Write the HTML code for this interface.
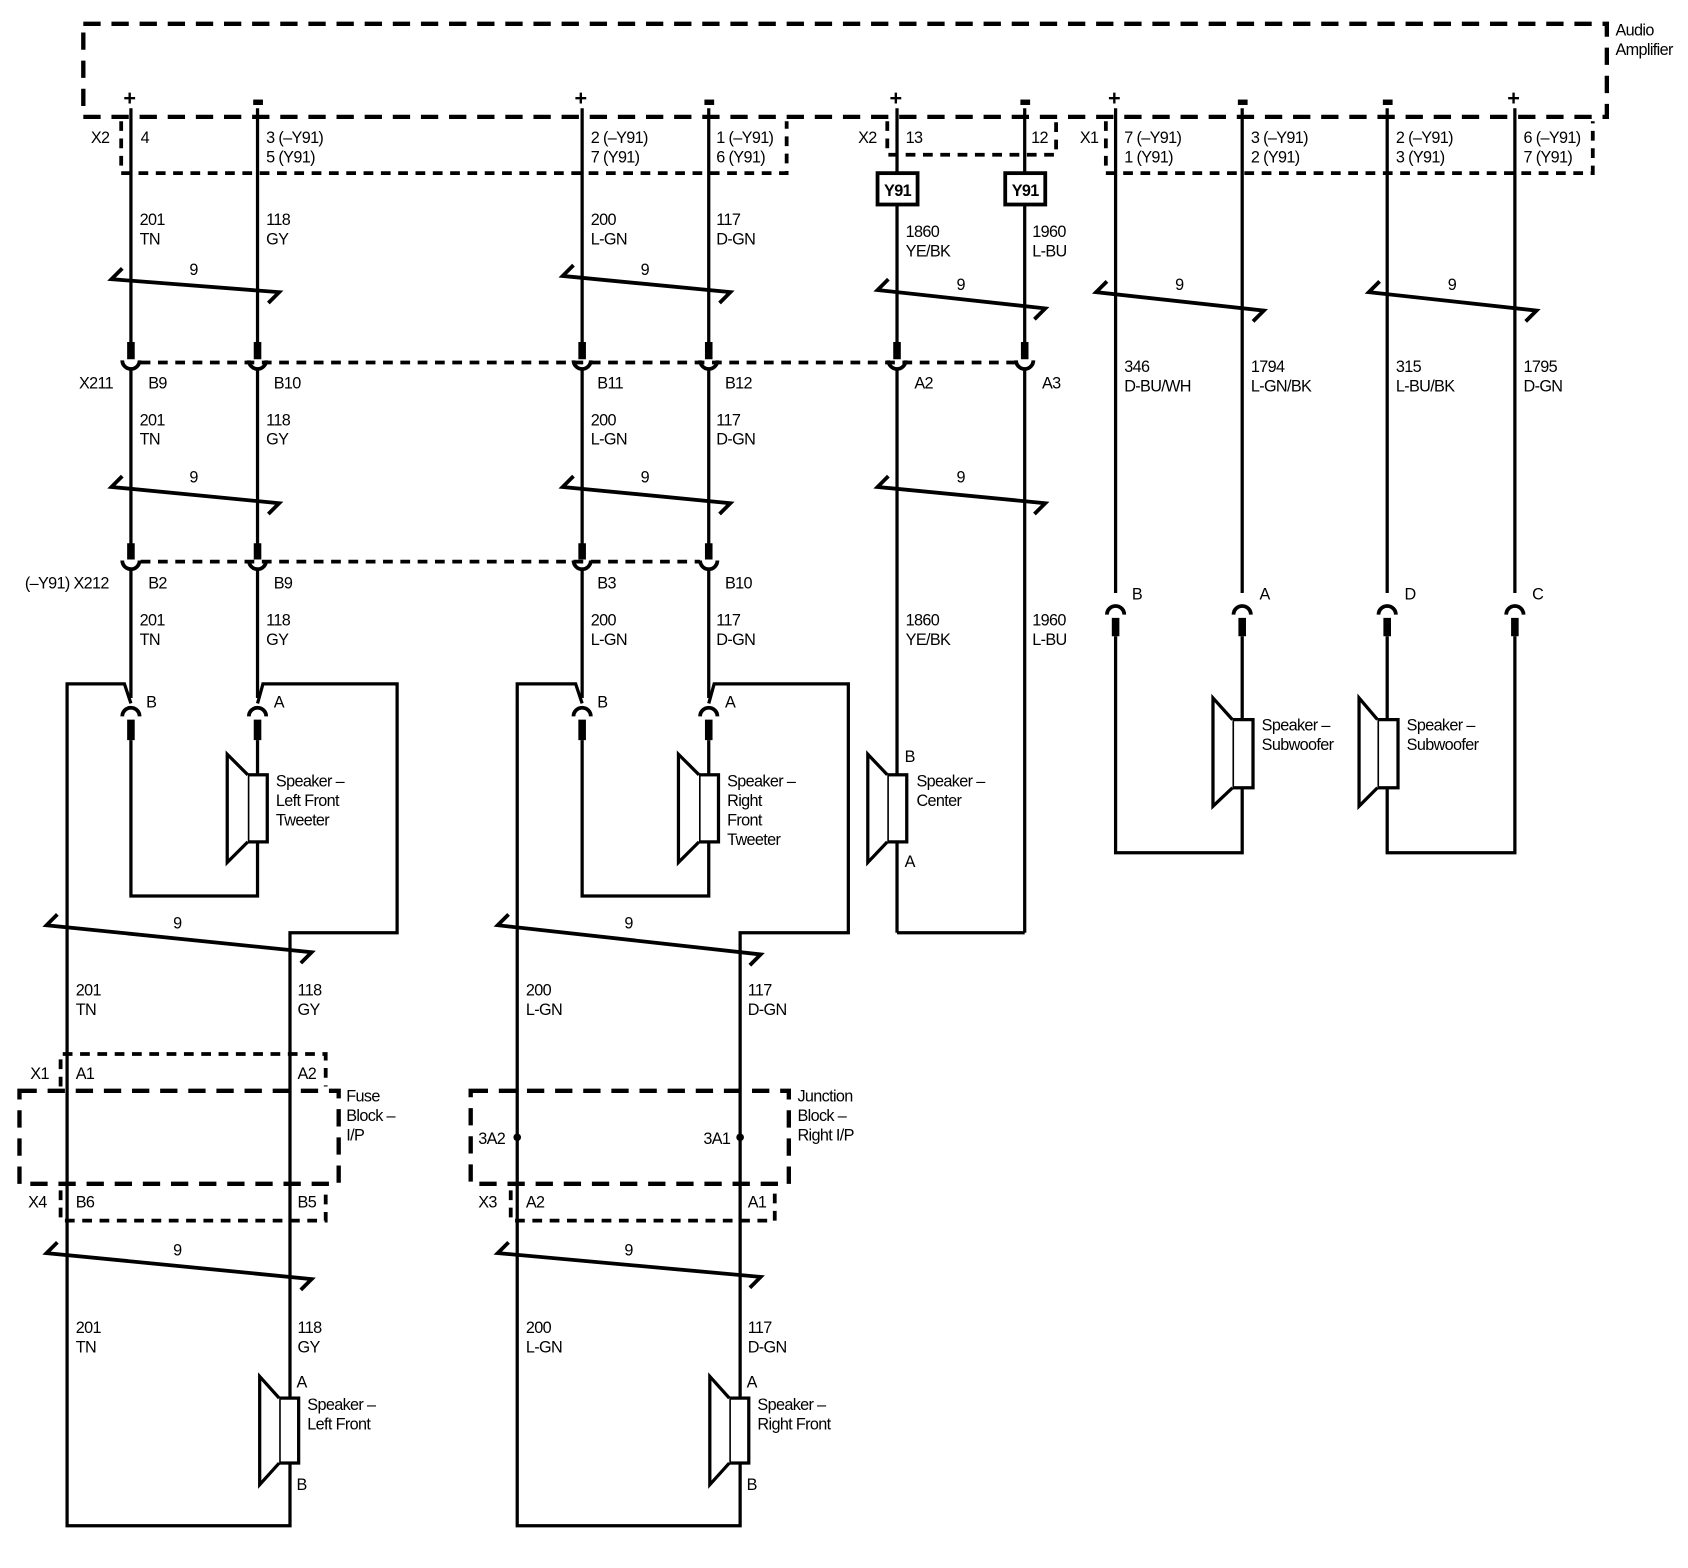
<!DOCTYPE html>
<html><head><meta charset="utf-8"><style>
html,body{margin:0;padding:0;background:#fff;}
svg{display:block;}
text{font-family:"Liberation Sans",sans-serif;font-size:15px;fill:#000;letter-spacing:-0.6px;}
.w{stroke:#000;stroke-width:3;fill:none;}
.d{stroke:#000;stroke-width:3.5;fill:none;stroke-dasharray:9,7;}
.dl{stroke:#000;stroke-width:4;fill:none;stroke-dasharray:16,10;}
.s{stroke:#000;stroke-width:3.5;fill:none;}
.st{stroke:#000;stroke-width:7;fill:none;}
.sp{stroke:#000;stroke-width:3;fill:#fff;}
.pm{font-size:20px;font-weight:bold;}
</style></head><body>
<svg width="1688" height="1568" viewBox="0 0 1560 1449" preserveAspectRatio="none" xmlns="http://www.w3.org/2000/svg">
<path class="dl" d="M77,22 H1485 V108 H77 Z"/>
<text x="1493" y="33">Audio</text><text x="1493" y="51">Amplifier</text>
<text class="pm" x="114" y="97">+</text>
<text class="pm" x="531" y="97">+</text>
<text class="pm" x="822" y="97">+</text>
<text class="pm" x="1024" y="97">+</text>
<text class="pm" x="1393" y="97">+</text>
<g fill="#000"><rect x="234" y="92" width="9" height="5"/><rect x="651" y="92" width="9" height="5"/><rect x="943" y="92" width="9" height="5"/><rect x="1144" y="92" width="9" height="5"/><rect x="1278" y="92" width="9" height="5"/></g>
<path class="d" d="M112,112 V160 H727 V112"/>
<path class="d" d="M820,112 V143 H976 V112"/>
<path class="d" d="M1022,112 V160 H1472 V112"/>
<text x="84" y="132">X2</text><text x="130" y="132">4</text>
<text x="246" y="132">3 (–Y91)</text><text x="246" y="150">5 (Y91)</text>
<text x="546" y="132">2 (–Y91)</text><text x="546" y="150">7 (Y91)</text>
<text x="662" y="132">1 (–Y91)</text><text x="662" y="150">6 (Y91)</text>
<text x="793" y="132">X2</text><text x="837" y="132">13</text><text x="953" y="132">12</text>
<text x="998" y="132">X1</text>
<text x="1039" y="132">7 (–Y91)</text><text x="1039" y="150">1 (Y91)</text>
<text x="1156" y="132">3 (–Y91)</text><text x="1156" y="150">2 (Y91)</text>
<text x="1290" y="132">2 (–Y91)</text><text x="1290" y="150">3 (Y91)</text>
<text x="1408" y="132">6 (–Y91)</text><text x="1408" y="150">7 (Y91)</text>
<rect x="811" y="160" width="37" height="29" class="s" fill="#fff"/>
<rect x="929" y="160" width="37" height="29" class="s" fill="#fff"/>
<text x="817" y="181" style="font-weight:bold">Y91</text><text x="935" y="181" style="font-weight:bold">Y91</text>

<path class="w" d="M121,100 V318 M238,100 V318 M538,100 V318 M655,100 V318 M829,100 V160 M829,189 V318 M947,100 V160 M947,189 V318"/>
<path class="w" d="M1031,100 V548 M1148,100 V548 M1282,100 V548 M1400,100 V548"/>
<text x="129" y="208">201</text><text x="129" y="226">TN</text>
<text x="246" y="208">118</text><text x="246" y="226">GY</text>
<text x="546" y="208">200</text><text x="546" y="226">L-GN</text>
<text x="662" y="208">117</text><text x="662" y="226">D-GN</text>
<text x="837" y="219">1860</text><text x="837" y="237">YE/BK</text>
<text x="954" y="219">1960</text><text x="954" y="237">L-BU</text>
<text x="1039" y="344">346</text><text x="1039" y="362">D-BU/WH</text>
<text x="1156" y="344">1794</text><text x="1156" y="362">L-GN/BK</text>
<text x="1290" y="344">315</text><text x="1290" y="362">L-BU/BK</text>
<text x="1408" y="344">1795</text><text x="1408" y="362">D-GN</text>
<g class="s">
<path d="M113,248 L103,258 L258,270 L248,280"/>
<path d="M530,245 L520,255 L675,270 L665,280"/>
<path d="M821,258 L811,268 L966,285 L956,295"/>
<path d="M1023,260 L1013,270 L1168,287 L1158,297"/>
<path d="M1275,260 L1265,270 L1420,287 L1410,297"/>
<path d="M113,440 L103,450 L258,465 L248,475"/>
<path d="M530,440 L520,450 L675,465 L665,475"/>
<path d="M821,440 L811,450 L966,465 L956,475"/>
<path d="M53,845 L43,855 L288,880 L278,890"/>
<path d="M470,845 L460,855 L703,882 L693,892"/>
<path d="M53,1148 L43,1158 L288,1182 L278,1192"/>
<path d="M470,1148 L460,1158 L703,1180 L693,1190"/>
</g>
<text x="175" y="254">9</text><text x="592" y="254">9</text><text x="884" y="268">9</text><text x="1086" y="268">9</text><text x="1338" y="268">9</text>
<text x="175" y="446">9</text><text x="592" y="446">9</text><text x="884" y="446">9</text>
<text x="160" y="858">9</text><text x="577" y="858">9</text>
<text x="160" y="1160">9</text><text x="577" y="1160">9</text>

<path class="d" d="M130,335 H938"/>
<g class="st"><path d="M121,316 V332 M238,316 V332 M538,316 V332 M655,316 V332 M829,316 V332 M947,316 V332"/></g>
<g class="s">
<path d="M113,333 A8,8 0 0 0 129,333 M230,333 A8,8 0 0 0 246,333 M530,333 A8,8 0 0 0 546,333 M647,333 A8,8 0 0 0 663,333 M821,333 A8,8 0 0 0 837,333 M939,333 A8,8 0 0 0 955,333"/>
</g>
<text x="73" y="359">X211</text><text x="137" y="359">B9</text><text x="253" y="359">B10</text><text x="552" y="359">B11</text><text x="670" y="359">B12</text><text x="845" y="359">A2</text><text x="963" y="359">A3</text>
<path class="w" d="M121,341 V504 M238,341 V504 M538,341 V504 M655,341 V504 M829,341 V862 M947,341 V862 M829,862 H947"/>
<text x="129" y="393">201</text><text x="129" y="411">TN</text>
<text x="246" y="393">118</text><text x="246" y="411">GY</text>
<text x="546" y="393">200</text><text x="546" y="411">L-GN</text>
<text x="662" y="393">117</text><text x="662" y="411">D-GN</text>

<path class="d" d="M130,519 H647"/>
<g class="st"><path d="M121,502 V517 M238,502 V517 M538,502 V517 M655,502 V517"/></g>
<g class="s"><path d="M113,518 A8,8 0 0 0 129,518 M230,518 A8,8 0 0 0 246,518 M530,518 A8,8 0 0 0 546,518 M647,518 A8,8 0 0 0 663,518"/></g>
<text x="23" y="544">(–Y91) X212</text><text x="137" y="544">B2</text><text x="253" y="544">B9</text><text x="552" y="544">B3</text><text x="670" y="544">B10</text>
<path class="w" d="M121,526 V645 M238,526 V645 M538,526 V645 M655,526 V645"/>
<text x="129" y="578">201</text><text x="129" y="596">TN</text>
<text x="246" y="578">118</text><text x="246" y="596">GY</text>
<text x="546" y="578">200</text><text x="546" y="596">L-GN</text>
<text x="662" y="578">117</text><text x="662" y="596">D-GN</text>
<text x="837" y="578">1860</text><text x="837" y="596">YE/BK</text>
<text x="954" y="578">1960</text><text x="954" y="596">L-BU</text>

<g class="s"><path d="M1023,568 A8,8 0 0 1 1039,568 M1140,568 A8,8 0 0 1 1156,568 M1274,568 A8,8 0 0 1 1290,568 M1392,568 A8,8 0 0 1 1408,568"/></g>
<g class="st"><path d="M1031,571 V588 M1148,571 V588 M1282,571 V588 M1400,571 V588"/></g>
<text x="1046" y="554">B</text><text x="1164" y="554">A</text><text x="1298" y="554">D</text><text x="1416" y="554">C</text>
<path class="w" d="M1031,588 V788 H1148 V588 M1282,588 V788 H1400 V588"/>
<rect class="sp" x="1139" y="665" width="19" height="63"/>
<path class="sp" d="M1139,665 L1121,645 V745 L1139,728"/>
<text x="1166" y="675">Speaker –</text><text x="1166" y="693">Subwoofer</text>
<rect class="sp" x="1273" y="665" width="19" height="63"/>
<path class="sp" d="M1273,665 L1256,645 V745 L1273,728"/>
<text x="1300" y="675">Speaker –</text><text x="1300" y="693">Subwoofer</text>

<rect class="sp" x="820" y="716" width="18" height="62"/>
<path class="sp" d="M820,716 L802,697 V797 L820,778"/>
<text x="836" y="704">B</text><text x="836" y="801">A</text>
<text x="847" y="727">Speaker –</text><text x="847" y="745">Center</text>

<g class="s"><path d="M113,662 A8,8 0 0 1 129,662 M230,662 A8,8 0 0 1 246,662 M530,662 A8,8 0 0 1 546,662 M647,662 A8,8 0 0 1 663,662"/></g>
<g class="st"><path d="M121,665 V684 M238,665 V684 M538,665 V684 M655,665 V684"/></g>
<text x="135" y="654">B</text><text x="253" y="654">A</text>
<text x="552" y="654">B</text><text x="670" y="654">A</text>
<path class="w" d="M121,684 V828 H238 V684"/>
<path class="w" d="M538,684 V828 H655 V684"/>
<path class="w" d="M121,650 L115,632 H62 V1410 H268 V862 H367 V632 H243 L238,650"/>
<path class="w" d="M538,650 L532,632 H478 V1410 H684 V862 H784 V632 H660 L655,650"/>
<rect class="sp" x="229" y="716" width="18" height="62"/>
<path class="sp" d="M229,716 L210,697 V797 L229,778"/>
<text x="255" y="727">Speaker –</text><text x="255" y="745">Left Front</text><text x="255" y="763">Tweeter</text>
<rect class="sp" x="646" y="716" width="18" height="62"/>
<path class="sp" d="M646,716 L627,697 V797 L646,778"/>
<text x="672" y="727">Speaker –</text><text x="672" y="745">Right</text><text x="672" y="763">Front</text><text x="672" y="781">Tweeter</text>

<text x="70" y="920">201</text><text x="70" y="938">TN</text>
<text x="275" y="920">118</text><text x="275" y="938">GY</text>
<text x="486" y="920">200</text><text x="486" y="938">L-GN</text>
<text x="691" y="920">117</text><text x="691" y="938">D-GN</text>

<path class="d" d="M56,1004 V974 H301 V1004"/>
<path class="dl" d="M18,1008 H313 V1094 H18 Z"/>
<path class="d" d="M56,1100 V1128 H301 V1100"/>
<text x="28" y="997">X1</text><text x="70" y="997">A1</text><text x="275" y="997">A2</text>
<text x="320" y="1018">Fuse</text><text x="320" y="1036">Block –</text><text x="320" y="1054">I/P</text>
<text x="26" y="1116">X4</text><text x="70" y="1116">B6</text><text x="275" y="1116">B5</text>
<path class="dl" d="M435,1008 H729 V1094 H435 Z"/>
<path class="d" d="M472,1100 V1128 H716 V1100"/>
<circle cx="478" cy="1051" r="3.5"/><circle cx="684" cy="1051" r="3.5"/>
<text x="442" y="1057">3A2</text><text x="650" y="1057">3A1</text>
<text x="737" y="1018">Junction</text><text x="737" y="1036">Block –</text><text x="737" y="1054">Right I/P</text>
<text x="442" y="1116">X3</text><text x="486" y="1116">A2</text><text x="691" y="1116">A1</text>

<text x="70" y="1232">201</text><text x="70" y="1250">TN</text>
<text x="275" y="1232">118</text><text x="275" y="1250">GY</text>
<text x="486" y="1232">200</text><text x="486" y="1250">L-GN</text>
<text x="691" y="1232">117</text><text x="691" y="1250">D-GN</text>

<rect class="sp" x="258" y="1292" width="18" height="60"/>
<path class="sp" d="M258,1292 L240,1272 V1372 L258,1352"/>
<text x="274" y="1282">A</text><text x="274" y="1377">B</text>
<text x="284" y="1303">Speaker –</text><text x="284" y="1321">Left Front</text>
<rect class="sp" x="674" y="1292" width="18" height="60"/>
<path class="sp" d="M674,1292 L656,1272 V1372 L674,1352"/>
<text x="690" y="1282">A</text><text x="690" y="1377">B</text>
<text x="700" y="1303">Speaker –</text><text x="700" y="1321">Right Front</text>
</svg>
</body></html>
